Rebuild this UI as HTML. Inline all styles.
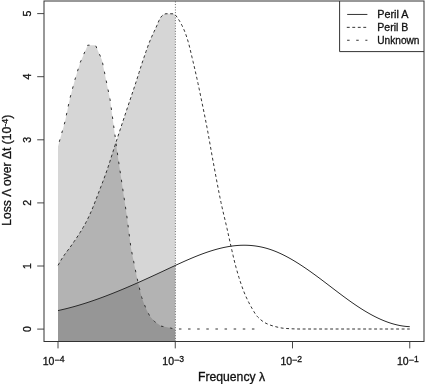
<!DOCTYPE html>
<html><head><meta charset="utf-8"><style>
html,body{margin:0;padding:0;background:#fff;}
body{width:425px;height:384px;overflow:hidden;}
svg{display:block;filter:grayscale(1);}
text{font-family:"Liberation Sans",sans-serif;fill:#111;stroke:#111;stroke-width:0.3px;}
</style></head><body>
<svg width="425" height="384" viewBox="0 0 425 384">
<rect width="425" height="384" fill="#fff"/>
<path d="M58.00,146.40 L64.90,122.00 L69.90,98.40 L74.90,79.80 L80.00,63.00 L87.70,45.20 L95.50,45.20 L102.00,60.00 L110.00,99.20 L115.40,138.30 L116.90,150.00 L121.80,182.60 L126.70,215.10 L130.90,247.70 L135.60,271.00 L138.50,284.50 L141.70,297.40 L145.70,307.90 L149.70,316.00 L154.60,321.60 L161.00,326.10 L170.70,328.10 L175.25,329.00 L175.25,341.0 L58.00,341.0 Z" fill="rgba(0,0,0,0.16)" stroke="none"/>
<path d="M58.00,265.50 L59.00,263.66 L60.00,261.86 L61.00,260.12 L62.00,258.47 L63.00,256.93 L64.00,255.46 L65.00,254.06 L66.00,252.70 L67.00,251.37 L68.00,250.05 L69.00,248.73 L70.00,247.39 L71.00,246.00 L72.00,244.56 L73.00,243.11 L74.00,241.66 L75.00,240.21 L76.00,238.74 L77.00,237.25 L78.00,235.75 L79.00,234.21 L80.00,232.65 L81.00,231.04 L82.00,229.39 L83.00,227.69 L84.00,225.94 L85.00,224.13 L86.00,222.25 L87.00,220.31 L88.00,218.30 L89.00,216.23 L90.00,214.09 L91.00,211.88 L92.00,209.54 L93.00,207.10 L94.00,204.57 L95.00,202.00 L96.00,199.39 L97.00,196.79 L98.00,194.21 L99.00,191.64 L100.00,189.07 L101.00,186.48 L102.00,183.87 L103.00,181.23 L104.00,178.55 L105.00,175.83 L106.00,173.05 L107.00,170.21 L108.00,167.28 L109.00,164.25 L110.00,161.16 L111.00,158.01 L112.00,154.83 L113.00,151.65 L114.00,148.48 L115.00,145.35 L116.00,142.27 L117.00,139.22 L118.00,136.17 L119.00,133.13 L120.00,130.10 L121.00,127.07 L122.00,124.05 L123.00,121.03 L124.00,118.02 L125.00,115.01 L126.00,112.00 L127.00,109.00 L128.00,106.01 L129.00,103.03 L130.00,100.06 L131.00,97.10 L132.00,94.12 L133.00,91.14 L134.00,88.15 L135.00,85.13 L136.00,82.08 L137.00,78.98 L138.00,75.83 L139.00,72.66 L140.00,69.50 L141.00,66.37 L142.00,63.29 L143.00,60.29 L144.00,57.36 L145.00,54.43 L146.00,51.54 L147.00,48.70 L148.00,45.94 L149.00,43.28 L150.00,40.75 L151.00,38.35 L152.00,36.07 L153.00,33.88 L154.00,31.75 L155.00,29.63 L156.00,27.50 L157.00,25.24 L158.00,22.86 L159.00,20.58 L160.00,18.56 L161.00,17.00 L162.00,15.82 L163.00,14.91 L164.00,14.35 L165.00,13.93 L166.00,13.75 L167.00,13.75 L168.00,13.75 L169.00,13.76 L170.00,13.76 L171.00,13.77 L172.00,13.78 L173.00,13.79 L174.00,13.91 L175.00,14.76 L175.25,15.03 L175.25,341.0 L58.00,341.0 Z" fill="rgba(0,0,0,0.16)" stroke="none"/>
<path d="M58.00,310.57 L59.00,310.36 L60.00,310.13 L61.00,309.91 L62.00,309.68 L63.00,309.45 L64.00,309.21 L65.00,308.97 L66.00,308.72 L67.00,308.47 L68.00,308.22 L69.00,307.96 L70.00,307.70 L71.00,307.43 L72.00,307.16 L73.00,306.89 L74.00,306.61 L75.00,306.33 L76.00,306.05 L77.00,305.76 L78.00,305.47 L79.00,305.17 L80.00,304.87 L81.00,304.57 L82.00,304.26 L83.00,303.95 L84.00,303.64 L85.00,303.32 L86.00,303.00 L87.00,302.68 L88.00,302.35 L89.00,302.02 L90.00,301.69 L91.00,301.35 L92.00,301.01 L93.00,300.67 L94.00,300.32 L95.00,299.97 L96.00,299.62 L97.00,299.27 L98.00,298.91 L99.00,298.55 L100.00,298.18 L101.00,297.82 L102.00,297.45 L103.00,297.08 L104.00,296.70 L105.00,296.33 L106.00,295.95 L107.00,295.56 L108.00,295.18 L109.00,294.79 L110.00,294.40 L111.00,294.01 L112.00,293.62 L113.00,293.22 L114.00,292.82 L115.00,292.42 L116.00,292.01 L117.00,291.61 L118.00,291.20 L119.00,290.79 L120.00,290.38 L121.00,289.96 L122.00,289.55 L123.00,289.13 L124.00,288.71 L125.00,288.29 L126.00,287.86 L127.00,287.44 L128.00,287.01 L129.00,286.58 L130.00,286.15 L131.00,285.71 L132.00,285.28 L133.00,284.84 L134.00,284.41 L135.00,283.97 L136.00,283.53 L137.00,283.08 L138.00,282.64 L139.00,282.19 L140.00,281.75 L141.00,281.30 L142.00,280.85 L143.00,280.40 L144.00,279.95 L145.00,279.50 L146.00,279.04 L147.00,278.59 L148.00,278.13 L149.00,277.68 L150.00,277.22 L151.00,276.76 L152.00,276.30 L153.00,275.84 L154.00,275.38 L155.00,274.92 L156.00,274.45 L157.00,273.99 L158.00,273.53 L159.00,273.06 L160.00,272.60 L161.00,272.13 L162.00,271.66 L163.00,271.20 L164.00,270.73 L165.00,270.26 L166.00,269.79 L167.00,269.32 L168.00,268.85 L169.00,268.39 L170.00,267.92 L171.00,267.45 L172.00,266.98 L173.00,266.52 L174.00,266.05 L175.00,265.59 L175.25,265.47 L175.25,341.0 L58.00,341.0 Z" fill="rgba(0,0,0,0.16)" stroke="none"/>
<line x1="175.4" y1="1.5" x2="175.4" y2="341" stroke="#333" stroke-width="0.8" stroke-dasharray="0.9 1.77"/>
<path d="M58.00,146.40 L64.90,122.00 L69.90,98.40 L74.90,79.80 L80.00,63.00 L87.70,45.20 L95.50,45.20 L102.00,60.00 L110.00,99.20 L115.40,138.30 L116.90,150.00 L121.80,182.60 L126.70,215.10 L130.90,247.70 L135.60,271.00 L138.50,284.50 L141.70,297.40 L145.70,307.90 L149.70,316.00 L154.60,321.60 L161.00,326.10 L170.70,328.10 L175.25,329.00 L255.00,329.00" fill="none" stroke="#333" stroke-width="1.0" stroke-dasharray="2.5 6.62" stroke-dashoffset="4.36"/>
<path d="M58.00,265.50 L59.00,263.66 L60.00,261.86 L61.00,260.12 L62.00,258.47 L63.00,256.93 L64.00,255.46 L65.00,254.06 L66.00,252.70 L67.00,251.37 L68.00,250.05 L69.00,248.73 L70.00,247.39 L71.00,246.00 L72.00,244.56 L73.00,243.11 L74.00,241.66 L75.00,240.21 L76.00,238.74 L77.00,237.25 L78.00,235.75 L79.00,234.21 L80.00,232.65 L81.00,231.04 L82.00,229.39 L83.00,227.69 L84.00,225.94 L85.00,224.13 L86.00,222.25 L87.00,220.31 L88.00,218.30 L89.00,216.23 L90.00,214.09 L91.00,211.88 L92.00,209.54 L93.00,207.10 L94.00,204.57 L95.00,202.00 L96.00,199.39 L97.00,196.79 L98.00,194.21 L99.00,191.64 L100.00,189.07 L101.00,186.48 L102.00,183.87 L103.00,181.23 L104.00,178.55 L105.00,175.83 L106.00,173.05 L107.00,170.21 L108.00,167.28 L109.00,164.25 L110.00,161.16 L111.00,158.01 L112.00,154.83 L113.00,151.65 L114.00,148.48 L115.00,145.35 L116.00,142.27 L117.00,139.22 L118.00,136.17 L119.00,133.13 L120.00,130.10 L121.00,127.07 L122.00,124.05 L123.00,121.03 L124.00,118.02 L125.00,115.01 L126.00,112.00 L127.00,109.00 L128.00,106.01 L129.00,103.03 L130.00,100.06 L131.00,97.10 L132.00,94.12 L133.00,91.14 L134.00,88.15 L135.00,85.13 L136.00,82.08 L137.00,78.98 L138.00,75.83 L139.00,72.66 L140.00,69.50 L141.00,66.37 L142.00,63.29 L143.00,60.29 L144.00,57.36 L145.00,54.43 L146.00,51.54 L147.00,48.70 L148.00,45.94 L149.00,43.28 L150.00,40.75 L151.00,38.35 L152.00,36.07 L153.00,33.88 L154.00,31.75 L155.00,29.63 L156.00,27.50 L157.00,25.24 L158.00,22.86 L159.00,20.58 L160.00,18.56 L161.00,17.00 L162.00,15.82 L163.00,14.91 L164.00,14.35 L165.00,13.93 L166.00,13.75 L167.00,13.75 L168.00,13.75 L169.00,13.76 L170.00,13.76 L171.00,13.77 L172.00,13.78 L173.00,13.79 L174.00,13.91 L175.00,14.76 L176.00,15.82 L177.00,17.07 L178.00,18.53 L179.00,20.11 L180.00,21.78 L181.00,23.57 L182.00,25.50 L183.00,27.58 L184.00,29.82 L185.00,32.24 L186.00,34.94 L187.00,37.93 L188.00,41.16 L189.00,44.75 L190.00,48.75 L191.00,52.98 L192.00,57.24 L193.00,61.43 L194.00,65.65 L195.00,69.94 L196.00,74.32 L197.00,78.81 L198.00,83.44 L199.00,88.16 L200.00,92.96 L201.00,97.79 L202.00,102.63 L203.00,107.47 L204.00,112.36 L205.00,117.31 L206.00,122.35 L207.00,127.52 L208.00,132.89 L209.00,138.42 L210.00,144.05 L211.00,149.71 L212.00,155.33 L213.00,160.82 L214.00,166.21 L215.00,171.61 L216.00,176.99 L217.00,182.32 L218.00,187.57 L219.00,192.71 L220.00,197.70 L221.00,202.50 L222.00,207.07 L223.00,211.43 L224.00,215.67 L225.00,219.86 L226.00,224.09 L227.00,228.44 L228.00,232.93 L229.00,237.48 L230.00,242.01 L231.00,246.44 L232.00,250.85 L233.00,255.24 L234.00,259.51 L235.00,263.55 L236.00,267.31 L237.00,270.91 L238.00,274.36 L239.00,277.65 L240.00,280.79 L241.00,283.78 L242.00,286.65 L243.00,289.40 L244.00,292.00 L245.00,294.43 L246.00,296.71 L247.00,298.87 L248.00,300.92 L249.00,302.89 L250.00,304.77 L251.00,306.57 L252.00,308.33 L253.00,310.09 L254.00,311.80 L255.00,313.42 L256.00,314.89 L257.00,316.16 L258.00,317.22 L259.00,318.21 L260.00,319.13 L261.00,319.99 L262.00,320.78 L263.00,321.51 L264.00,322.18 L265.00,322.77 L266.00,323.30 L267.00,323.77 L268.00,324.21 L269.00,324.62 L270.00,325.00 L271.00,325.35 L272.00,325.67 L273.00,325.98 L274.00,326.26 L275.00,326.52 L276.00,326.77 L277.00,327.02 L278.00,327.26 L279.00,327.49 L280.00,327.71 L281.00,327.90 L282.00,328.07 L283.00,328.20 L284.00,328.30 L285.00,328.38 L286.00,328.45 L287.00,328.52 L288.00,328.58 L289.00,328.64 L290.00,328.70 L291.00,328.75 L292.00,328.80 L293.00,328.85 L294.00,328.89 L295.00,328.92 L296.00,328.95 L297.00,328.97 L298.00,328.99 L299.00,329.00 L300.00,329.00 L409.75,329.00" fill="none" stroke="#333" stroke-width="1.0" stroke-dasharray="2.9 2.6" stroke-dashoffset="5.31"/>
<path d="M58.00,310.57 L59.00,310.36 L60.00,310.13 L61.00,309.91 L62.00,309.68 L63.00,309.45 L64.00,309.21 L65.00,308.97 L66.00,308.72 L67.00,308.47 L68.00,308.22 L69.00,307.96 L70.00,307.70 L71.00,307.43 L72.00,307.16 L73.00,306.89 L74.00,306.61 L75.00,306.33 L76.00,306.05 L77.00,305.76 L78.00,305.47 L79.00,305.17 L80.00,304.87 L81.00,304.57 L82.00,304.26 L83.00,303.95 L84.00,303.64 L85.00,303.32 L86.00,303.00 L87.00,302.68 L88.00,302.35 L89.00,302.02 L90.00,301.69 L91.00,301.35 L92.00,301.01 L93.00,300.67 L94.00,300.32 L95.00,299.97 L96.00,299.62 L97.00,299.27 L98.00,298.91 L99.00,298.55 L100.00,298.18 L101.00,297.82 L102.00,297.45 L103.00,297.08 L104.00,296.70 L105.00,296.33 L106.00,295.95 L107.00,295.56 L108.00,295.18 L109.00,294.79 L110.00,294.40 L111.00,294.01 L112.00,293.62 L113.00,293.22 L114.00,292.82 L115.00,292.42 L116.00,292.01 L117.00,291.61 L118.00,291.20 L119.00,290.79 L120.00,290.38 L121.00,289.96 L122.00,289.55 L123.00,289.13 L124.00,288.71 L125.00,288.29 L126.00,287.86 L127.00,287.44 L128.00,287.01 L129.00,286.58 L130.00,286.15 L131.00,285.71 L132.00,285.28 L133.00,284.84 L134.00,284.41 L135.00,283.97 L136.00,283.53 L137.00,283.08 L138.00,282.64 L139.00,282.19 L140.00,281.75 L141.00,281.30 L142.00,280.85 L143.00,280.40 L144.00,279.95 L145.00,279.50 L146.00,279.04 L147.00,278.59 L148.00,278.13 L149.00,277.68 L150.00,277.22 L151.00,276.76 L152.00,276.30 L153.00,275.84 L154.00,275.38 L155.00,274.92 L156.00,274.45 L157.00,273.99 L158.00,273.53 L159.00,273.06 L160.00,272.60 L161.00,272.13 L162.00,271.66 L163.00,271.20 L164.00,270.73 L165.00,270.26 L166.00,269.79 L167.00,269.32 L168.00,268.85 L169.00,268.39 L170.00,267.92 L171.00,267.45 L172.00,266.98 L173.00,266.52 L174.00,266.05 L175.00,265.59 L176.00,265.12 L177.00,264.66 L178.00,264.20 L179.00,263.74 L180.00,263.29 L181.00,262.83 L182.00,262.38 L183.00,261.93 L184.00,261.48 L185.00,261.04 L186.00,260.59 L187.00,260.15 L188.00,259.72 L189.00,259.29 L190.00,258.86 L191.00,258.43 L192.00,258.01 L193.00,257.59 L194.00,257.18 L195.00,256.77 L196.00,256.36 L197.00,255.96 L198.00,255.56 L199.00,255.17 L200.00,254.79 L201.00,254.41 L202.00,254.03 L203.00,253.66 L204.00,253.30 L205.00,252.94 L206.00,252.59 L207.00,252.24 L208.00,251.90 L209.00,251.57 L210.00,251.24 L211.00,250.92 L212.00,250.61 L213.00,250.30 L214.00,250.00 L215.00,249.71 L216.00,249.43 L217.00,249.15 L218.00,248.88 L219.00,248.63 L220.00,248.37 L221.00,248.13 L222.00,247.90 L223.00,247.67 L224.00,247.45 L225.00,247.25 L226.00,247.05 L227.00,246.86 L228.00,246.68 L229.00,246.51 L230.00,246.35 L231.00,246.20 L232.00,246.06 L233.00,245.93 L234.00,245.81 L235.00,245.70 L236.00,245.60 L237.00,245.52 L238.00,245.44 L239.00,245.38 L240.00,245.32 L241.00,245.28 L242.00,245.25 L243.00,245.23 L244.00,245.22 L245.00,245.23 L246.00,245.24 L247.00,245.27 L248.00,245.31 L249.00,245.36 L250.00,245.42 L251.00,245.50 L252.00,245.59 L253.00,245.69 L254.00,245.80 L255.00,245.93 L256.00,246.07 L257.00,246.22 L258.00,246.38 L259.00,246.56 L260.00,246.75 L261.00,246.95 L262.00,247.17 L263.00,247.40 L264.00,247.64 L265.00,247.90 L266.00,248.17 L267.00,248.45 L268.00,248.75 L269.00,249.06 L270.00,249.38 L271.00,249.72 L272.00,250.07 L273.00,250.44 L274.00,250.82 L275.00,251.21 L276.00,251.61 L277.00,252.03 L278.00,252.46 L279.00,252.90 L280.00,253.35 L281.00,253.81 L282.00,254.29 L283.00,254.78 L284.00,255.27 L285.00,255.78 L286.00,256.30 L287.00,256.83 L288.00,257.37 L289.00,257.92 L290.00,258.47 L291.00,259.04 L292.00,259.62 L293.00,260.20 L294.00,260.80 L295.00,261.40 L296.00,262.01 L297.00,262.63 L298.00,263.26 L299.00,263.90 L300.00,264.54 L301.00,265.19 L302.00,265.84 L303.00,266.51 L304.00,267.18 L305.00,267.85 L306.00,268.54 L307.00,269.23 L308.00,269.92 L309.00,270.62 L310.00,271.32 L311.00,272.03 L312.00,272.75 L313.00,273.47 L314.00,274.19 L315.00,274.92 L316.00,275.65 L317.00,276.39 L318.00,277.13 L319.00,277.87 L320.00,278.62 L321.00,279.37 L322.00,280.12 L323.00,280.87 L324.00,281.63 L325.00,282.39 L326.00,283.15 L327.00,283.91 L328.00,284.67 L329.00,285.44 L330.00,286.20 L331.00,286.96 L332.00,287.73 L333.00,288.49 L334.00,289.26 L335.00,290.02 L336.00,290.78 L337.00,291.54 L338.00,292.30 L339.00,293.05 L340.00,293.81 L341.00,294.56 L342.00,295.31 L343.00,296.05 L344.00,296.79 L345.00,297.53 L346.00,298.26 L347.00,298.99 L348.00,299.72 L349.00,300.44 L350.00,301.15 L351.00,301.86 L352.00,302.57 L353.00,303.26 L354.00,303.95 L355.00,304.64 L356.00,305.32 L357.00,305.99 L358.00,306.65 L359.00,307.31 L360.00,307.96 L361.00,308.60 L362.00,309.23 L363.00,309.86 L364.00,310.47 L365.00,311.08 L366.00,311.68 L367.00,312.27 L368.00,312.85 L369.00,313.42 L370.00,313.99 L371.00,314.54 L372.00,315.08 L373.00,315.61 L374.00,316.14 L375.00,316.65 L376.00,317.15 L377.00,317.64 L378.00,318.12 L379.00,318.58 L380.00,319.04 L381.00,319.49 L382.00,319.92 L383.00,320.34 L384.00,320.75 L385.00,321.15 L386.00,321.53 L387.00,321.91 L388.00,322.27 L389.00,322.61 L390.00,322.95 L391.00,323.27 L392.00,323.58 L393.00,323.87 L394.00,324.15 L395.00,324.42 L396.00,324.67 L397.00,324.91 L398.00,325.14 L399.00,325.35 L400.00,325.55 L401.00,325.73 L402.00,325.90 L403.00,326.05 L404.00,326.18 L405.00,326.31 L406.00,326.41 L407.00,326.50 L408.00,326.58 L409.00,326.63 L409.75,326.67" fill="none" stroke="#2a2a2a" stroke-width="1.0"/>
<line x1="37.2" y1="329.10" x2="44" y2="329.10" stroke="#333" stroke-width="0.9"/>
<text transform="translate(31.3,329.10) rotate(-90)" text-anchor="middle" font-size="10.5">0</text>
<line x1="37.2" y1="266.00" x2="44" y2="266.00" stroke="#333" stroke-width="0.9"/>
<text transform="translate(31.3,266.00) rotate(-90)" text-anchor="middle" font-size="10.5">1</text>
<line x1="37.2" y1="202.90" x2="44" y2="202.90" stroke="#333" stroke-width="0.9"/>
<text transform="translate(31.3,202.90) rotate(-90)" text-anchor="middle" font-size="10.5">2</text>
<line x1="37.2" y1="139.80" x2="44" y2="139.80" stroke="#333" stroke-width="0.9"/>
<text transform="translate(31.3,139.80) rotate(-90)" text-anchor="middle" font-size="10.5">3</text>
<line x1="37.2" y1="76.70" x2="44" y2="76.70" stroke="#333" stroke-width="0.9"/>
<text transform="translate(31.3,76.70) rotate(-90)" text-anchor="middle" font-size="10.5">4</text>
<line x1="37.2" y1="13.60" x2="44" y2="13.60" stroke="#333" stroke-width="0.9"/>
<text transform="translate(31.3,13.60) rotate(-90)" text-anchor="middle" font-size="10.5">5</text>
<line x1="58.00" y1="341.4" x2="58.00" y2="348.4" stroke="#333" stroke-width="0.9"/>
<text x="42.70" y="364.6" font-size="10.5">10<tspan font-size="9" dy="-1.2">−</tspan><tspan font-size="8.6" dy="-1.1">4</tspan></text>
<line x1="175.25" y1="341.4" x2="175.25" y2="348.4" stroke="#333" stroke-width="0.9"/>
<text x="162.30" y="364.6" font-size="10.5">10<tspan font-size="9" dy="-1.2">−</tspan><tspan font-size="8.6" dy="-1.1">3</tspan></text>
<line x1="292.50" y1="341.4" x2="292.50" y2="348.4" stroke="#333" stroke-width="0.9"/>
<text x="280.40" y="364.6" font-size="10.5">10<tspan font-size="9" dy="-1.2">−</tspan><tspan font-size="8.6" dy="-1.1">2</tspan></text>
<line x1="409.75" y1="341.4" x2="409.75" y2="348.4" stroke="#333" stroke-width="0.9"/>
<text x="397.00" y="364.6" font-size="10.5">10<tspan font-size="9" dy="-1.2">−</tspan><tspan font-size="8.6" dy="-1.1">1</tspan></text>
<text x="198" y="381.1" font-size="12.2">Frequency λ</text>
<text transform="translate(11.3,170.2) rotate(-90)" text-anchor="middle" font-size="12.1">Loss Λ over Δt (10<tspan font-size="9" dy="-3.5">-4</tspan><tspan dy="3.5">)</tspan></text>
<rect x="339.6" y="1.5" width="83.9" height="50.1" fill="white"/>
<path d="M339.6,1 V51.6 H424" fill="none" stroke="#333" stroke-width="1"/>
<line x1="347.2" y1="14.45" x2="367.4" y2="14.45" stroke="#333" stroke-width="1.0"/>
<line x1="346.8" y1="27.35" x2="367.4" y2="27.35" stroke="#333" stroke-width="1.0" stroke-dasharray="2.9 2.6"/>
<line x1="347.1" y1="40.25" x2="367.4" y2="40.25" stroke="#333" stroke-width="1.0" stroke-dasharray="2.5 6.62"/>
<text x="377.3" y="17.7" font-size="10.5" textLength="31.2" lengthAdjust="spacingAndGlyphs">Peril A</text>
<text x="377.3" y="30.6" font-size="10.5" textLength="31.0" lengthAdjust="spacingAndGlyphs">Peril B</text>
<text x="377.3" y="43.5" font-size="10.5" textLength="42.2" lengthAdjust="spacingAndGlyphs">Unknown</text>
<rect x="44" y="1" width="380" height="340.5" fill="none" stroke="#333" stroke-width="1"/>
</svg>
</body></html>
